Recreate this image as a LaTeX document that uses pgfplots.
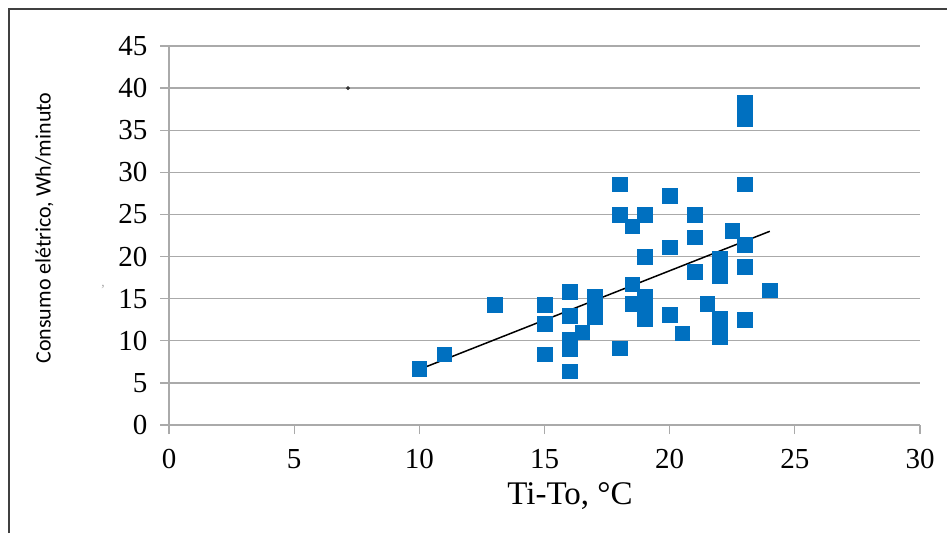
\documentclass[border=0pt]{standalone}
\usepackage{pgfplots}
\pgfplotsset{compat=1.18}
\usepackage{fontspec}
\setmainfont{Liberation Serif}
\newfontfamily\carlito{Carlito}
\definecolor{mblue}{RGB}{0,112,192}
\definecolor{gridc}{RGB}{170,170,170}
\definecolor{framec}{RGB}{64,64,64}
\begin{document}
\begin{tikzpicture}[x=1pt,y=1pt]
\useasboundingbox (0,0) rectangle (947,533);
\fill[white] (0,0) rectangle (947,533);
\draw[framec, line width=2pt] (9,0) -- (9,524) -- (947,524);
\begin{axis}[
  at={(169pt,108pt)}, anchor=origin,
  scale only axis, width=751pt, height=379pt,
  xmin=0, xmax=30, ymin=0, ymax=45,
  axis x line*=bottom, axis y line*=left,
  ymajorgrids, grid style={gridc, line width=1.3pt},
  axis line style={gridc, line width=1.3pt},
  tick style={gridc, line width=1.3pt},
  tick align=outside, major tick length=9pt,
  xtick={0,5,...,30}, ytick={0,5,...,45},
  /pgf/number format/assume math mode=true,
  ticklabel style={font=\fontsize{29}{29}\selectfont},
  yticklabel style={xshift=-9pt},
  xticklabel style={yshift=-12pt},
  clip=false,
]
\addplot[only marks, mark=square*, mark size=7.3pt, mark options={draw=mblue, fill=mblue}] coordinates {
(10,6.7) (11,8.4) (13,14.3) (15,14.3) (15,12.0) (15,8.4)
(16,15.8) (16,13.0) (16,10.2) (16,9.0) (16,6.4) (16.5,11.0)
(17,15.3) (17,14.0) (17,12.8)
(18,28.6) (18,25.0) (18,9.1)
(18.5,23.6) (18.5,16.7) (18.5,14.4)
(19,25.0) (19,20.0) (19,15.3) (19,14.1) (19,12.6)
(20,27.2) (20,21.1) (20,13.1) (20.5,10.9)
(21,25.0) (21,22.3) (21,18.2) (21.5,14.4)
(22,19.8) (22,18.7) (22,17.7) (22,12.6) (22,11.6) (22,10.5)
(22.5,23.1)
(23,38.3) (23,36.4) (23,28.6) (23,21.4) (23,18.8) (23,12.5)
(24,16.0)
};
\addplot[black, line width=1.5pt] coordinates {(10,6.6) (24,23.0)};
\addplot[only marks, mark=*, mark size=1.8pt, mark options={draw=black!80, fill=black!80}] coordinates {(7.15,40.0)};
\end{axis}
\node[rotate=90, anchor=south, font=\carlito\fontsize{22}{22}\selectfont] at (57,305) {Consumo elétrico, Wh/minuto};
\node[font=\fontsize{33}{33}\selectfont] at (570,37) {Ti-To, °C};
\node[gridc, font=\fontsize{14}{14}\selectfont] at (103,243) {'};
\end{tikzpicture}
\end{document}
